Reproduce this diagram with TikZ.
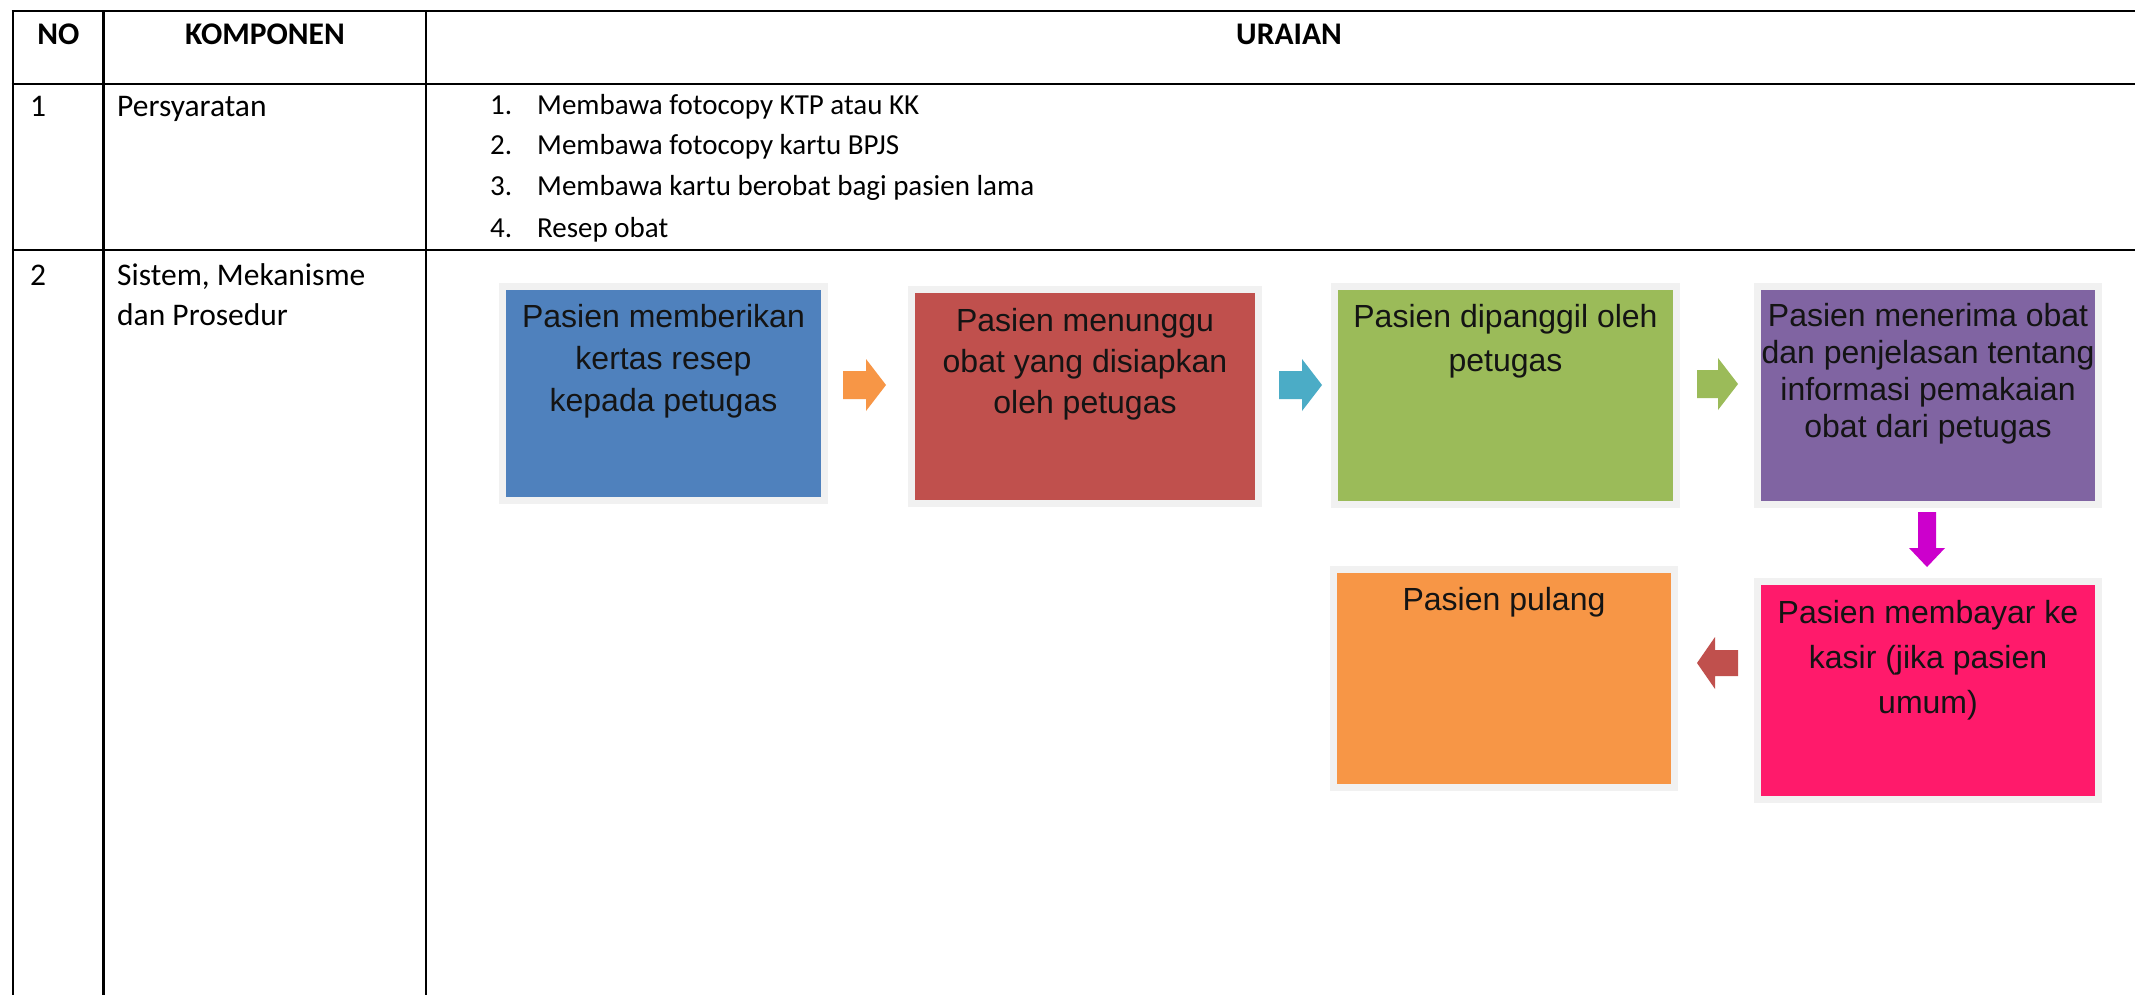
\documentclass[tikz,border=0pt]{standalone}
\usepackage{fontspec}
\setmainfont{Carlito}
\newfontfamily\arialfont{Liberation Sans}
\definecolor{cBlue}{HTML}{4F81BD}
\definecolor{cRed}{HTML}{C0504D}
\definecolor{cGreen}{HTML}{9BBB59}
\definecolor{cPurple}{HTML}{8064A2}
\definecolor{cPink}{HTML}{FF1A6B}
\definecolor{cOrange}{HTML}{F79646}
\definecolor{cTeal}{HTML}{4BACC6}
\definecolor{cMagenta}{HTML}{CC00CC}
\definecolor{cFrame}{HTML}{F1F1F1}
\definecolor{cText}{HTML}{141414}
\begin{document}
\begin{tikzpicture}[x=1pt,y=-1pt,
  gridline/.style={line width=2.6pt, black},
  th/.style={font=\bfseries\fontsize{31.5}{36}\selectfont, inner sep=0pt, anchor=base},
  tt/.style={font=\fontsize{31.5}{36}\selectfont, inner sep=0pt, anchor=base west},
  tl/.style={font=\fontsize{29}{34}\selectfont, inner sep=0pt, anchor=base west},
  flowbox/.style={rectangle, inner sep=0pt, preaction={draw=cFrame, line width=14pt}},
  btxt/.style={inner sep=0pt, anchor=north, align=center, text=cText}
]
\useasboundingbox (0,0) rectangle (2135,995);
\fill[white] (0,0) rectangle (2135,995);

% table lines
\draw[gridline] (11.7,11) -- (2135,11);
\draw[gridline] (11.7,84) -- (2135,84);
\draw[gridline] (11.7,250) -- (2135,250);
\draw[gridline] (13,11) -- (13,995);
\draw[gridline] (103.5,11) -- (103.5,995);
\draw[gridline] (426,11) -- (426,995);

% header
\node[th] (hno) at (58.5,45) {NO};
\node[th] (hkomp) at (265,45) {KOMPONEN};
\node[th] (hur) at (1289,45) {URAIAN};

% row 1
\node[tt] (no1) at (30,117) {1};
\node[tt] (komp1) at (117,117) {Persyaratan};
\node[tl] (i1n) at (490,115) {1.};
\node[tl] (i1) at (537,115) {Membawa fotocopy KTP atau KK};
\node[tl] (i2n) at (490,155) {2.};
\node[tl] (i2) at (537,155) {Membawa fotocopy kartu BPJS};
\node[tl] (i3n) at (490,196) {3.};
\node[tl] (i3) at (537,196) {Membawa kartu berobat bagi pasien lama};
\node[tl] (i4n) at (490,237) {4.};
\node[tl] (i4) at (537,237) {Resep obat};

% row 2
\node[tt] (no2) at (30,285) {2};
\node[tt] (komp2a) at (117,285) {Sistem, Mekanisme};
\node[tt] (komp2b) at (117,325) {dan Prosedur};

% flow boxes
\node[flowbox, fill=cBlue, minimum width=315pt, minimum height=207pt] (b1) at (663.5,393.5) {};
\node[flowbox, fill=cRed, minimum width=340pt, minimum height=207pt] (b2) at (1085,396.5) {};
\node[flowbox, fill=cGreen, minimum width=335pt, minimum height=211pt] (b3) at (1505.5,395.5) {};
\node[flowbox, fill=cPurple, minimum width=334pt, minimum height=211pt] (b4) at (1928,395.5) {};
\node[flowbox, fill=cPink, minimum width=334pt, minimum height=211pt] (b5) at (1928,690.5) {};
\node[flowbox, fill=cOrange, minimum width=334pt, minimum height=211pt] (b6) at (1504,678.5) {};

\node[btxt, font=\arialfont\fontsize{32}{42}\selectfont] (t1) at (663.5,304.5) {Pasien memberikan\\kertas resep\\kepada petugas};
\node[btxt, font=\arialfont\fontsize{32}{41}\selectfont] (t2) at (1085,308.5) {Pasien menunggu\\obat yang disiapkan\\oleh petugas};
\node[btxt, font=\arialfont\fontsize{32}{44}\selectfont] (t3) at (1505.5,304.5) {Pasien dipanggil oleh\\petugas};
\node[btxt, font=\arialfont\fontsize{32}{37}\selectfont] (t4) at (1928,303.5) {Pasien menerima obat\\dan penjelasan tentang\\informasi pemakaian\\obat dari petugas};
\node[btxt, font=\arialfont\fontsize{32}{45}\selectfont] (t5) at (1928,600) {Pasien membayar ke\\kasir (jika pasien\\umum)};
\node[btxt, font=\arialfont\fontsize{32}{40}\selectfont] (t6) at (1504,587) {Pasien pulang};

% block arrows
\fill[cOrange] (843,371) -- (866,371) -- (866,359) -- (886,385) -- (866,411) -- (866,399) -- (843,399) -- cycle;
\fill[cTeal] (1279,371) -- (1302,371) -- (1302,359) -- (1322,385) -- (1302,411) -- (1302,399) -- (1279,399) -- cycle;
\fill[cGreen] (1697,370) -- (1718,370) -- (1718,358) -- (1738,384) -- (1718,410) -- (1718,398) -- (1697,398) -- cycle;
\fill[cMagenta] (1918,512) -- (1936,512) -- (1936,548) -- (1945,548) -- (1927,567) -- (1909,548) -- (1918,548) -- cycle;
\fill[cRed] (1738,650) -- (1715,650) -- (1715,637) -- (1697,663) -- (1715,689) -- (1715,676) -- (1738,676) -- cycle;
\end{tikzpicture}
\end{document}
